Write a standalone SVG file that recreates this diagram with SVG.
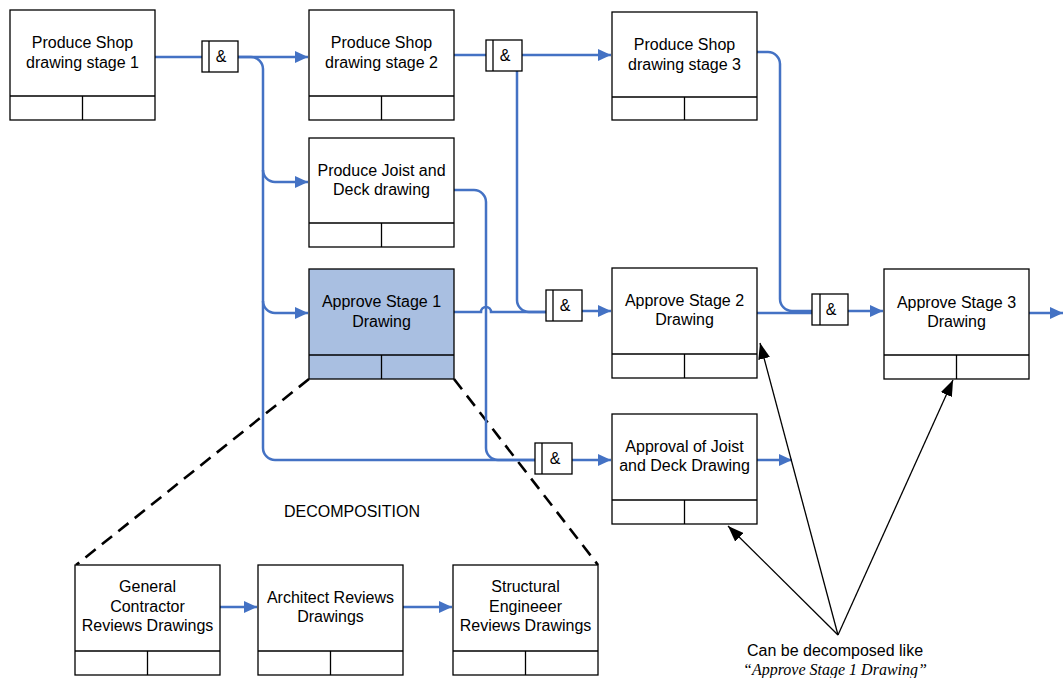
<svg xmlns="http://www.w3.org/2000/svg" width="1063" height="678" viewBox="0 0 1063 678">
<style>
.box{fill:#fff;stroke:#000;stroke-width:1.3}
.hl{fill:#A9BFE1}
.t{font-family:"Liberation Sans",Arial,sans-serif;font-size:16px;fill:#000;text-anchor:middle}
.c{fill:none;stroke:#4472C4;stroke-width:2.5}
.k{fill:none;stroke:#000;stroke-width:1.3}
.d{fill:none;stroke:#000;stroke-width:2.6;stroke-dasharray:13 8}
.g{fill:#fff;stroke:#000;stroke-width:1.3}
</style>
<defs>
<marker id="ab" markerUnits="userSpaceOnUse" markerWidth="14" markerHeight="12" refX="13" refY="6" orient="auto">
<path d="M0,0 L13,6 L0,12 z" fill="#4472C4"/>
</marker>
<marker id="ak" markerUnits="userSpaceOnUse" markerWidth="16" markerHeight="12" refX="16" refY="6" orient="auto">
<path d="M0,0 L16,6 L0,12 z" fill="#000"/>
</marker>
</defs>
<rect width="1063" height="678" fill="#fff"/>

<g id="connectors">
<path class="d" d="M309,379 L76,565"/>
<path class="d" d="M454,379 L598,565"/>
<path class="c" d="M155,57 H202"/>
<path class="c" d="M238,57 H308" marker-end="url(#ab)"/>
<path class="c" d="M238,57 H251 a12,12 0 0 1 12,12 V448 a12,12 0 0 0 12,12 H535"/>
<path class="c" d="M263,170 a12,12 0 0 0 12,12 H308" marker-end="url(#ab)"/>
<path class="c" d="M263,301 a12,12 0 0 0 12,12 H308" marker-end="url(#ab)"/>
<path class="c" d="M454,55 H486"/>
<path class="c" d="M522,55 H611" marker-end="url(#ab)"/>
<path class="c" d="M517,70 V300 a12,12 0 0 0 12,12 H546"/>
<path class="c" d="M454,312 H481 a5,5 0 0 1 10,0 H546"/>
<path class="c" d="M582,311 H611" marker-end="url(#ab)"/>
<path class="c" d="M454,190 H474 a12,12 0 0 1 12,12 V448 a12,12 0 0 0 12,12 H535"/>
<path class="c" d="M572,460 H611" marker-end="url(#ab)"/>
<path class="c" d="M757,460 H792" marker-end="url(#ab)"/>
<path class="c" d="M757,52 H768 a12,12 0 0 1 12,12 V299 a12,12 0 0 0 12,12 H812"/>
<path class="c" d="M757,313 H812"/>
<path class="c" d="M848,311 H883" marker-end="url(#ab)"/>
<path class="c" d="M1029,313 H1063" marker-end="url(#ab)"/>
<path class="c" d="M220,607 H257" marker-end="url(#ab)"/>
<path class="c" d="M403,607 H452" marker-end="url(#ab)"/>
<path class="k" d="M838,635 L760,343" marker-end="url(#ak)"/>
<path class="k" d="M838,635 L953,380" marker-end="url(#ak)"/>
<path class="k" d="M838,635 L728,526" marker-end="url(#ak)"/>
</g>

<g id="gates">
<g id="gate1"><rect class="g" x="202" y="41" width="36" height="31"/><line class="k" x1="209" y1="41" x2="209" y2="72"/><text class="t" x="221" y="62">&amp;</text></g>
<g id="gate2"><rect class="g" x="486" y="40" width="36" height="31"/><line class="k" x1="493" y1="40" x2="493" y2="71"/><text class="t" x="505" y="61">&amp;</text></g>
<g id="gate3"><rect class="g" x="546" y="290" width="36" height="31"/><line class="k" x1="553" y1="290" x2="553" y2="321"/><text class="t" x="565" y="311">&amp;</text></g>
<g id="gate4"><rect class="g" x="535" y="443" width="37" height="31"/><line class="k" x1="542" y1="443" x2="542" y2="474"/><text class="t" x="555" y="464">&amp;</text></g>
<g id="gate5"><rect class="g" x="812" y="294" width="36" height="31"/><line class="k" x1="820" y1="294" x2="820" y2="325"/><text class="t" x="831" y="315">&amp;</text></g>
</g>

<g id="n1"><rect class="box" x="10" y="10" width="145" height="110"/><path class="k" d="M10,96 H155 M82.5,96 V120"/><text class="t" x="82.5" y="48">Produce Shop</text><text class="t" x="82.5" y="68">drawing stage 1</text></g>
<g id="n2"><rect class="box" x="309" y="10" width="145" height="110"/><path class="k" d="M309,96 H454 M381.5,96 V120"/><text class="t" x="381.5" y="48">Produce Shop</text><text class="t" x="381.5" y="68">drawing stage 2</text></g>
<g id="n3"><rect class="box" x="612" y="12" width="145" height="108"/><path class="k" d="M612,97 H757 M684.5,97 V120"/><text class="t" x="684.5" y="50">Produce Shop</text><text class="t" x="684.5" y="70">drawing stage 3</text></g>
<g id="n4"><rect class="box" x="309" y="138" width="145" height="109"/><path class="k" d="M309,223 H454 M381.5,223 V247"/><text class="t" x="381.5" y="176">Produce Joist and</text><text class="t" x="381.5" y="195">Deck drawing</text></g>
<g id="n5"><rect class="box hl" x="309" y="269" width="145" height="110"/><path class="k" d="M309,355 H454 M381.5,355 V379"/><text class="t" x="381.5" y="307">Approve Stage 1</text><text class="t" x="381.5" y="327">Drawing</text></g>
<g id="n6"><rect class="box" x="612" y="268" width="145" height="110"/><path class="k" d="M612,354 H757 M684.5,354 V378"/><text class="t" x="684.5" y="306">Approve Stage 2</text><text class="t" x="684.5" y="325">Drawing</text></g>
<g id="n7"><rect class="box" x="884" y="269" width="145" height="110"/><path class="k" d="M884,355 H1029 M956.5,355 V379"/><text class="t" x="956.5" y="308">Approve Stage 3</text><text class="t" x="956.5" y="327">Drawing</text></g>
<g id="n8"><rect class="box" x="612" y="414" width="145" height="110"/><path class="k" d="M612,500 H757 M684.5,500 V524"/><text class="t" x="684.5" y="452">Approval of Joist</text><text class="t" x="684.5" y="471">and Deck Drawing</text></g>
<g id="n9"><rect class="box" x="75" y="565" width="145" height="110"/><path class="k" d="M75,651 H220 M147.5,651 V675"/><text class="t" x="147.5" y="592">General</text><text class="t" x="147.5" y="612">Contractor</text><text class="t" x="147.5" y="631">Reviews Drawings</text></g>
<g id="n10"><rect class="box" x="258" y="565" width="145" height="110"/><path class="k" d="M258,651 H403 M330.5,651 V675"/><text class="t" x="330.5" y="603">Architect Reviews</text><text class="t" x="330.5" y="622">Drawings</text></g>
<g id="n11"><rect class="box" x="453" y="565" width="145" height="110"/><path class="k" d="M453,651 H598 M525.5,651 V675"/><text class="t" x="525.5" y="592">Structural</text><text class="t" x="525.5" y="612">Engineeer</text><text class="t" x="525.5" y="631">Reviews Drawings</text></g>

<g id="labels">
<text class="t" x="352" y="517">DECOMPOSITION</text>
<text class="t" x="835" y="656">Can be decomposed like</text>
<text x="835" y="675" style="font-family:'Liberation Serif','Times New Roman',serif;font-style:italic;font-size:16px;text-anchor:middle">“Approve Stage 1 Drawing”</text>
</g>
</svg>
